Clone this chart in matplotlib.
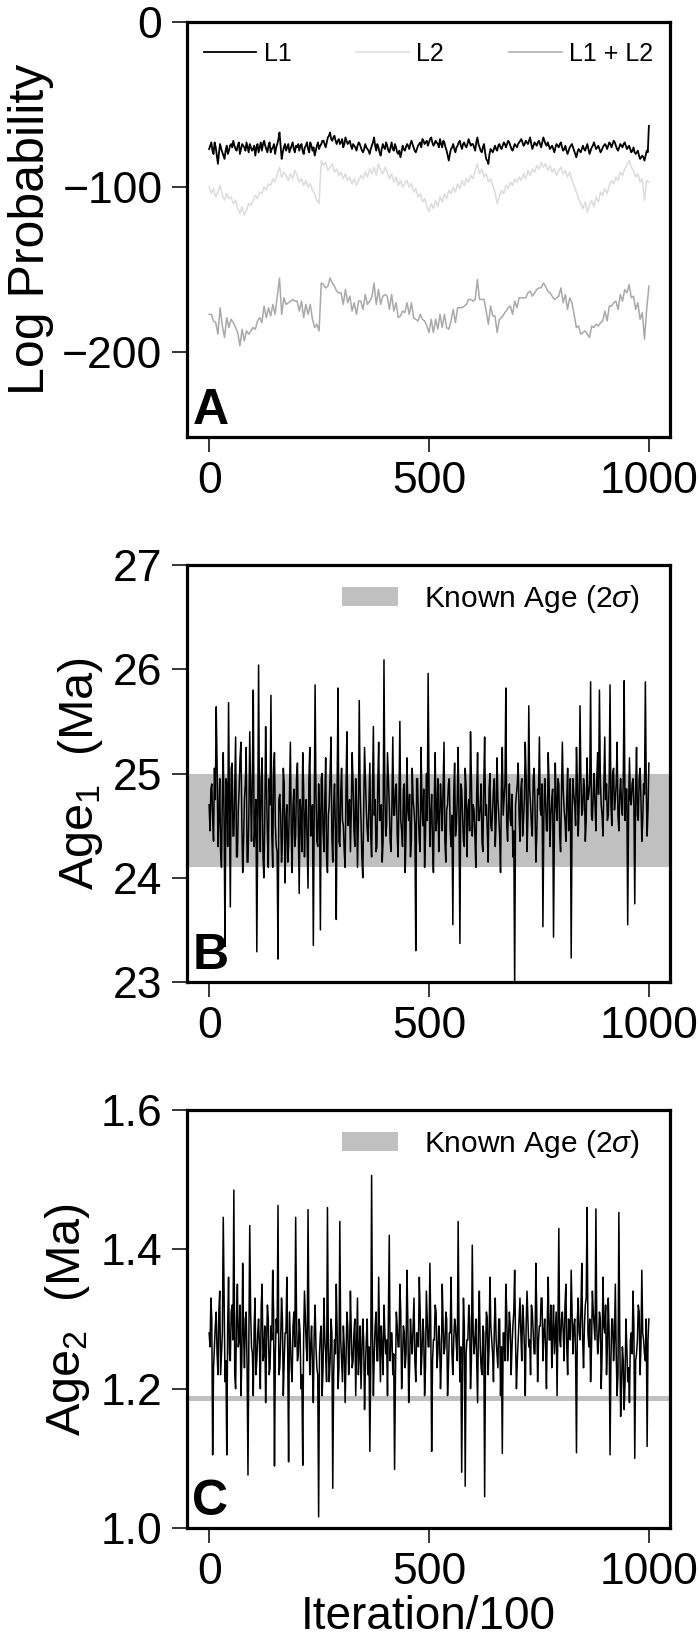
import numpy as np
import matplotlib
matplotlib.use("Agg")
import matplotlib.pyplot as plt
from matplotlib.patches import Patch

# ---- data ----
# log probability traces, every 5 iterations (L1 also has in-between samples)
L1 = [
    -77, -73, -80, -76, -86, -74, -79, -83, -75, -78,
    -74, -72, -77, -75, -80, -74, -76, -73, -79, -76,
    -77, -81, -74, -76, -78, -72, -77, -75, -79, -76,
    -80, -74, -67, -83, -76, -78, -74, -77, -73, -79,
    -76, -78, -74, -80, -75, -77, -73, -78, -81, -75,
    -77, -74, -72, -76, -70, -67, -72, -69, -74, -71,
    -73, -76, -70, -74, -72, -77, -75, -78, -73, -76,
    -79, -74, -77, -80, -75, -70, -78, -76, -81, -74,
    -77, -75, -79, -73, -78, -76, -80, -82, -75, -78,
    -74, -77, -72, -76, -79, -75, -73, -71, -74, -72,
    -73, -70, -75, -72, -74, -71, -76, -73, -78, -84,
    -77, -74, -79, -75, -72, -77, -73, -76, -71, -75,
    -74, -78, -70, -76, -79, -74, -83, -86, -77, -79,
    -75, -78, -74, -77, -73, -76, -72, -75, -78, -74,
    -76, -73, -71, -75, -72, -74, -70, -77, -73, -75,
    -72, -76, -70, -74, -73, -77, -75, -79, -74, -76,
    -73, -78, -75, -80, -76, -74, -78, -82, -77, -79,
    -75, -78, -74, -80, -76, -73, -77, -75, -79, -76,
    -74, -77, -73, -76, -72, -75, -78, -74, -76, -73,
    -77, -75, -79, -76, -80, -78, -83, -81, -84, -78,
    -63,
]
L1_between = [
    -75, -78, -73, -81, -79, -77, -81, -78, -80, -75,
    -76, -75, -78, -73, -77, -75, -78, -76, -74, -78,
    -75, -76, -79, -73, -74, -75, -79, -73, -77, -74,
    -76, -71, -75, -79, -74, -76, -79, -75, -77, -75,
    -74, -75, -78, -76, -73, -79, -75, -76, -78, -73,
    -75, -72, -74, -73, -69, -71, -70, -72, -72, -74,
    -71, -74, -72, -73, -75, -74, -76, -75, -74, -78,
    -77, -76, -78, -77, -73, -75, -74, -79, -77, -76,
    -73, -78, -76, -77, -74, -79, -78, -79, -77, -76,
    -75, -74, -74, -78, -77, -74, -76, -72, -73, -75,
    -71, -73, -74, -73, -76, -74, -72, -76, -81, -80,
    -76, -77, -76, -73, -75, -74, -75, -74, -73, -74,
    -76, -73, -74, -78, -76, -79, -84, -80, -78, -77,
    -77, -75, -76, -75, -74, -74, -73, -77, -76, -75,
    -74, -72, -73, -74, -73, -72, -74, -75, -74, -73,
    -74, -73, -72, -75, -75, -76, -77, -76, -75, -74,
    -76, -77, -78, -78, -75, -76, -80, -79, -78, -77,
    -77, -76, -77, -78, -75, -75, -76, -77, -78, -75,
    -75, -75, -74, -74, -73, -77, -76, -75, -74, -75,
    -76, -77, -78, -79, -79, -81, -82, -82, -81, -79,
]
L2 = [
    -100, -104, -101, -106, -103, -99, -105, -108, -104, -107,
    -106, -110, -108, -113, -116, -112, -117, -114, -110, -111,
    -108, -105, -107, -103, -104, -100, -102, -98, -99, -95,
    -97, -92, -88, -94, -91, -93, -96, -92, -95, -90,
    -93, -97, -95, -99, -96, -100, -98, -102, -104, -108,
    -110, -84, -87, -85, -90, -88, -86, -91, -89, -93,
    -91, -95, -92, -96, -94, -98, -95, -99, -96, -93,
    -95, -91, -94, -89, -92, -88, -93, -86, -90, -92,
    -88, -91, -95, -92, -97, -94, -99, -96, -100, -98,
    -96, -100, -98, -103, -101, -106, -104, -109, -107, -112,
    -115, -110, -113, -108, -112, -106, -109, -104, -107, -102,
    -104, -100, -103, -98, -101, -96, -99, -95, -97, -93,
    -95, -90, -86, -92, -89, -94, -92, -97, -95, -99,
    -103, -110, -106, -102, -104, -99, -101, -97, -99, -95,
    -97, -94, -96, -92, -95, -90, -93, -89, -91, -87,
    -89, -85, -88, -86, -90, -87, -91, -89, -93, -90,
    -88, -92, -90, -94, -91, -96, -99, -103, -107, -110,
    -113, -109, -115, -111, -108, -112, -106, -109, -103, -105,
    -101, -104, -99, -96, -98, -94, -96, -91, -93, -89,
    -87, -84, -88, -90, -94, -92, -97, -95, -108, -96,
    -97,
]
# age traces, every 4 iterations plus the samples in between
age1 = [
    24.70, 24.85, 24.55, 25.05, 25.64, 24.30, 24.95, 24.10, 25.20, 23.34,
    24.90, 25.68, 23.72, 25.10, 24.40, 25.35, 24.20, 24.85, 25.30, 24.05,
    24.75, 25.25, 24.15, 25.40, 24.35, 25.80, 24.50, 23.29, 26.04, 24.25,
    25.15, 24.00, 25.45, 24.40, 24.95, 25.75, 24.10, 25.20, 24.30, 23.22,
    24.80, 24.15, 25.05, 23.95, 24.70, 24.30, 25.30, 24.05, 24.85, 24.40,
    25.10, 23.85, 24.60, 25.20, 24.20, 24.75, 23.90, 25.25, 24.45, 23.35,
    25.85, 24.35, 24.90, 23.50, 25.00, 24.25, 25.15, 24.05, 24.70, 25.35,
    24.15, 24.90, 23.60, 25.82, 24.30, 25.05, 24.50, 24.10, 25.40, 24.60,
    24.25, 25.20, 24.45, 24.95, 24.10, 25.70, 24.55, 24.00, 25.25, 24.65,
    24.35, 25.10, 24.20, 25.45, 24.75, 24.30, 25.30, 24.55, 24.15, 26.09,
    24.40, 25.20, 24.70, 24.25, 25.35, 24.60, 24.90, 24.20, 25.50, 24.45,
    24.85, 24.05, 25.15, 24.55, 24.20, 25.05, 24.65, 23.30, 24.95, 24.35,
    25.25, 24.50, 24.10, 25.00, 25.96, 24.30, 24.80, 24.05, 25.20, 24.60,
    24.25, 24.90, 24.45, 25.30, 24.15, 24.70, 24.95, 24.30, 23.55, 25.10,
    24.50, 25.25, 23.37, 24.85, 24.35, 25.05, 24.20, 24.75, 25.40, 24.40,
    24.65, 24.10, 25.20, 24.55, 24.90, 24.25, 25.35, 24.70, 24.15, 25.00,
    24.45, 24.85, 24.30, 25.15, 24.60, 24.05, 25.25, 24.75, 25.82, 24.35,
    24.90, 24.50, 24.20, 22.95, 24.80, 25.10, 24.35, 24.95, 24.55, 25.30,
    24.25, 25.65, 24.70, 24.40, 25.05, 24.15, 24.85, 25.35, 24.60, 23.53,
    24.95, 24.45, 25.20, 24.30, 24.75, 23.43, 25.10, 24.55, 24.90, 24.25,
    25.30, 24.65, 24.35, 25.05, 24.50, 23.23, 24.95, 24.70, 25.25, 24.40,
    25.65, 24.60, 24.95, 24.35, 25.15, 24.80, 25.88, 24.55, 25.00, 24.45,
    25.20, 25.80, 24.70, 24.40, 25.35, 24.90, 24.60, 25.85, 24.50, 25.05,
    24.75, 25.30, 24.45, 24.95, 24.60, 25.89, 24.85, 23.55, 25.15, 24.70,
    24.95, 23.75, 25.25, 24.55, 25.05, 24.35, 24.90, 25.88, 24.40, 25.10,
]
age1_between = [
    24.45, 24.90, 24.35, 24.75, 25.10, 24.60, 24.25, 24.80, 24.50, 24.95,
    24.30, 24.70, 25.05, 24.40, 24.85, 24.20, 24.65, 25.15, 24.55, 24.35,
    24.90, 24.15, 24.60, 24.80, 25.00, 24.30, 24.75, 24.45, 24.65, 24.95,
    24.20, 24.55, 24.85, 24.10, 24.70, 24.40, 25.05, 24.50, 24.25, 24.75,
    24.60, 24.35, 24.90, 24.55, 24.15, 24.80, 24.45, 24.70, 24.30, 24.95,
    24.50, 24.75, 24.25, 24.85, 24.60, 24.35, 24.95, 24.40, 24.70, 24.55,
    24.80, 24.30, 24.65, 24.95, 24.45, 24.75, 24.20, 24.60, 25.00, 24.40,
    24.70, 24.45, 24.90, 24.35, 24.80, 24.55, 24.25, 24.85, 24.50, 24.75,
    24.65, 24.90, 24.30, 24.70, 24.55, 24.85, 24.20, 24.60, 24.95, 24.45,
    24.75, 24.40, 24.85, 24.60, 24.25, 24.90, 24.55, 24.70, 24.35, 24.80,
    24.50, 24.95, 24.35, 24.70, 24.60, 24.85, 24.40, 24.75, 24.55, 24.30,
    24.90, 24.45, 24.65, 24.80, 24.35, 24.75, 24.50, 24.95, 24.60, 24.25,
    24.70, 24.85, 24.40, 24.55, 24.90, 24.60, 24.30, 24.75, 24.45, 24.95,
    24.55, 24.70, 24.85, 24.35, 24.65, 24.90, 24.45, 24.60, 24.80, 24.40,
    24.75, 24.55, 24.90, 24.60, 24.30, 24.85, 24.65, 24.45, 24.95, 24.70,
    24.40, 24.80, 24.55, 24.70, 24.35, 24.90, 24.60, 24.45, 24.85, 24.50,
    24.65, 24.95, 24.55, 24.75, 24.40, 24.85, 24.60, 24.90, 24.50, 24.70,
    24.55, 24.80, 24.45, 24.70, 24.90, 24.60, 24.85, 24.40, 24.75, 24.95,
    24.60, 24.85, 24.50, 24.95, 24.70, 24.40, 24.80, 24.65, 24.90, 24.55,
    24.75, 24.45, 24.90, 24.60, 24.85, 24.50, 24.70, 24.95, 24.40, 24.80,
    24.85, 24.55, 24.75, 24.45, 24.95, 24.60, 24.80, 24.50, 24.90, 24.70,
    24.95, 24.65, 24.85, 24.55, 24.75, 24.90, 24.60, 24.80, 24.70, 24.95,
    24.80, 24.95, 24.60, 24.85, 24.75, 24.55, 24.90, 24.70, 25.00, 24.65,
    24.90, 24.60, 24.80, 24.70, 24.95, 24.55, 24.85, 24.65, 24.75, 24.90,
    24.70, 24.85, 24.60, 24.95, 24.75, 24.55, 24.80, 24.90, 24.65, 24.85,
]
age2 = [
    1.28, 1.33, 1.105, 1.26, 1.31, 1.22, 1.34, 1.25, 1.446, 1.21,
    1.105, 1.36, 1.24, 1.32, 1.485, 1.20, 1.35, 1.27, 1.19, 1.38,
    1.23, 1.31, 1.076, 1.434, 1.26, 1.19, 1.33, 1.24, 1.30, 1.20,
    1.35, 1.25, 1.18, 1.32, 1.22, 1.29, 1.37, 1.089, 1.30, 1.463,
    1.23, 1.33, 1.19, 1.28, 1.36, 1.095, 1.27, 1.21, 1.31, 1.446,
    1.24, 1.30, 1.20, 1.09, 1.34, 1.26, 1.457, 1.22, 1.29, 1.18,
    1.32, 1.23, 1.016, 1.28, 1.19, 1.33, 1.25, 1.46, 1.21, 1.30,
    1.057, 1.27, 1.35, 1.20, 1.44, 1.24, 1.29, 1.18, 1.31, 1.22,
    1.34, 1.23, 1.28, 1.19, 1.33, 1.25, 1.20, 1.30, 1.17, 1.27,
    1.22, 1.11, 1.506, 1.19, 1.29, 1.24, 1.36, 1.21, 1.26, 1.32,
    1.25, 1.19, 1.42, 1.28, 1.22, 1.084, 1.31, 1.26, 1.35, 1.20,
    1.29, 1.23, 1.37, 1.18, 1.30, 1.25, 1.33, 1.21, 1.28, 1.36,
    1.22, 1.30, 1.19, 1.34, 1.26, 1.38, 1.11, 1.27, 1.32, 1.23,
    1.29, 1.20, 1.35, 1.25, 1.31, 1.19, 1.28, 1.36, 1.22, 1.30,
    1.26, 1.44, 1.21, 1.08, 1.33, 1.06, 1.27, 1.32, 1.20, 1.406,
    1.25, 1.30, 1.18, 1.34, 1.23, 1.29, 1.045, 1.31, 1.22, 1.36,
    1.27, 1.21, 1.33, 1.25, 1.30, 1.19, 1.107, 1.28, 1.35, 1.24,
    1.31, 1.22, 1.29, 1.37, 1.20, 1.27, 1.33, 1.24, 1.30, 1.19,
    1.34, 1.26, 1.22, 1.31, 1.25, 1.38, 1.21, 1.29, 1.33, 1.24,
    1.30, 1.20, 1.36, 1.27, 1.23, 1.32, 1.28, 1.19, 1.43, 1.26,
    1.31, 1.24, 1.35, 1.22, 1.29, 1.37, 1.25, 1.30, 1.108, 1.33,
    1.27, 1.38, 1.23, 1.32, 1.46, 1.26, 1.21, 1.34, 1.29, 1.458,
    1.25, 1.31, 1.20, 1.36, 1.28, 1.22, 1.33, 1.105, 1.30, 1.24,
    1.35, 1.19, 1.453, 1.16, 1.26, 1.17, 1.30, 1.21, 1.18, 1.28,
    1.34, 1.10, 1.25, 1.32, 1.22, 1.37, 1.27, 1.24, 1.117, 1.30,
]
age2_between = [
    1.26, 1.30, 1.23, 1.29, 1.25, 1.31, 1.22, 1.28, 1.33, 1.24,
    1.29, 1.25, 1.31, 1.27, 1.22, 1.30, 1.26, 1.32, 1.24, 1.28,
    1.30, 1.23, 1.27, 1.31, 1.25, 1.29, 1.22, 1.28, 1.26, 1.32,
    1.24, 1.29, 1.26, 1.30, 1.23, 1.27, 1.31, 1.25, 1.28, 1.22,
    1.27, 1.30, 1.24, 1.28, 1.25, 1.31, 1.23, 1.29, 1.26, 1.30,
    1.25, 1.28, 1.22, 1.27, 1.30, 1.24, 1.29, 1.26, 1.23, 1.28,
    1.26, 1.22, 1.25, 1.29, 1.23, 1.27, 1.21, 1.26, 1.24, 1.28,
    1.22, 1.25, 1.28, 1.23, 1.27, 1.21, 1.26, 1.24, 1.29, 1.25,
    1.28, 1.24, 1.30, 1.26, 1.22, 1.29, 1.25, 1.27, 1.23, 1.30,
    1.26, 1.23, 1.28, 1.25, 1.31, 1.24, 1.27, 1.29, 1.22, 1.28,
    1.27, 1.30, 1.24, 1.28, 1.25, 1.22, 1.29, 1.26, 1.31, 1.24,
    1.28, 1.25, 1.30, 1.23, 1.27, 1.29, 1.24, 1.28, 1.26, 1.31,
    1.25, 1.28, 1.23, 1.30, 1.26, 1.29, 1.24, 1.27, 1.31, 1.25,
    1.27, 1.24, 1.29, 1.26, 1.30, 1.23, 1.28, 1.25, 1.27, 1.29,
    1.24, 1.28, 1.26, 1.22, 1.29, 1.25, 1.27, 1.30, 1.24, 1.28,
    1.27, 1.24, 1.29, 1.26, 1.22, 1.28, 1.25, 1.30, 1.26, 1.29,
    1.25, 1.29, 1.27, 1.23, 1.30, 1.26, 1.28, 1.24, 1.31, 1.27,
    1.29, 1.26, 1.31, 1.27, 1.24, 1.30, 1.28, 1.32, 1.26, 1.29,
    1.30, 1.27, 1.32, 1.28, 1.25, 1.31, 1.27, 1.29, 1.33, 1.28,
    1.26, 1.30, 1.27, 1.32, 1.28, 1.25, 1.31, 1.29, 1.27, 1.30,
    1.28, 1.32, 1.26, 1.30, 1.27, 1.31, 1.29, 1.25, 1.30, 1.28,
    1.31, 1.27, 1.29, 1.33, 1.28, 1.30, 1.26, 1.31, 1.27, 1.29,
    1.27, 1.30, 1.25, 1.29, 1.32, 1.26, 1.28, 1.24, 1.30, 1.27,
    1.25, 1.22, 1.28, 1.20, 1.24, 1.21, 1.26, 1.23, 1.27, 1.25,
    1.29, 1.24, 1.27, 1.31, 1.26, 1.28, 1.25, 1.30, 1.27, 1.29,
]
age1_band = (24.1, 25.0)
age2_band = (1.183, 1.189)
x_ticks = [0, 500, 1000]


def merge(main, between):
    # put each in-between sample after its main sample
    out = np.empty(len(main) + len(between))
    out[0::2] = main
    out[1::2] = between
    return out


FONT = ["Liberation Sans", "DejaVu Sans"]
plt.rcParams["font.family"] = FONT
plt.rcParams["mathtext.fontset"] = "custom"
plt.rcParams["mathtext.rm"] = "Liberation Sans"
plt.rcParams["mathtext.it"] = "Liberation Sans:italic"

L1_full = merge(L1, L1_between)
L2 = np.array(L2, float)
L12 = np.array(L1, float) + L2
age1_full = merge(age1[:-1], age1_between[:-1])
age1_full = np.append(age1_full, age1[-1])
age2_full = merge(age2[:-1], age2_between[:-1])
age2_full = np.append(age2_full, age2[-1])

xa1 = np.linspace(0, 1000, len(L1_full))
xa = np.linspace(0, 1000, len(L2))
xb = np.linspace(0, 1000, len(age1_full))
xc = np.linspace(0, 1000, len(age2_full))

fig = plt.figure(figsize=(6.99, 16.38), dpi=100)
W, H = 699, 1638
def box(top, bottom, left=186.7, right=670):
    return [left / W, 1 - bottom / H, (right - left) / W, (bottom - top) / H]

axA = fig.add_axes(box(21.7, 436.7))
axB = fig.add_axes(box(565, 982))
axC = fig.add_axes(box(1110, 1528))

for ax in (axA, axB, axC):
    for s in ax.spines.values():
        s.set_linewidth(2.3)
    ax.tick_params(direction="out", length=10.5, width=1.1, labelsize=32, pad=7)
    ax.set_xlim(-51, 1048)
    ax.set_xticks(x_ticks)

# panel A
axA.plot(xa1, L1_full, color="black", lw=1.3, label="L1")
axA.plot(xa, L2, color="#dcdcdc", lw=1.1, label="L2")
axA.plot(xa, L12, color="#a9a9a9", lw=1.1, label="L1 + L2")
axA.set_ylim(-251, 0)
axA.set_yticks([0, -100, -200])
axA.set_ylabel("Log Probability", fontsize=36, labelpad=6)
axA.legend(loc="center", bbox_to_anchor=(0.5, 0.922), ncol=3, frameon=False,
           fontsize=18, handlelength=2.1, handletextpad=0.3, columnspacing=2.6,
           borderpad=0, borderaxespad=0)

# panel B
axB.axhspan(*age1_band, color="#c0c0c0", lw=0)
axB.plot(xb, age1_full, color="black", lw=1.1)
axB.set_ylim(23, 27)
axB.set_yticks([23, 24, 25, 26, 27])
axB.set_ylabel("Age$_1$  (Ma)", fontsize=35, labelpad=6)

# panel C
axC.axhspan(*age2_band, color="#c0c0c0", lw=0)
axC.plot(xc, age2_full, color="black", lw=1.1)
axC.set_ylim(1.0, 1.6)
axC.set_yticks([1.0, 1.2, 1.4, 1.6])
axC.set_yticklabels(["1.0", "1.2", "1.4", "1.6"])
axC.set_ylabel("Age$_2$  (Ma)", fontsize=35, labelpad=6)
axC.set_xlabel("Iteration/100", fontsize=33, labelpad=1)

for ax in (axB, axC):
    h = [Patch(facecolor="#c0c0c0", edgecolor="none")]
    ax.legend(h, ["Known Age (2$\\sigma$)"], loc="center right",
              bbox_to_anchor=(0.938, 0.918), frameon=False, fontsize=21.5,
              handlelength=1.9, handleheight=0.6, handletextpad=0.87,
              borderpad=0, borderaxespad=0)

for ax, letter in ((axA, "A"), (axB, "B"), (axC, "C")):
    ax.text(0.012, 0.006, letter, transform=ax.transAxes, ha="left", va="bottom",
            fontsize=36, fontweight="bold")

fig.savefig("out.png", dpi=100)
